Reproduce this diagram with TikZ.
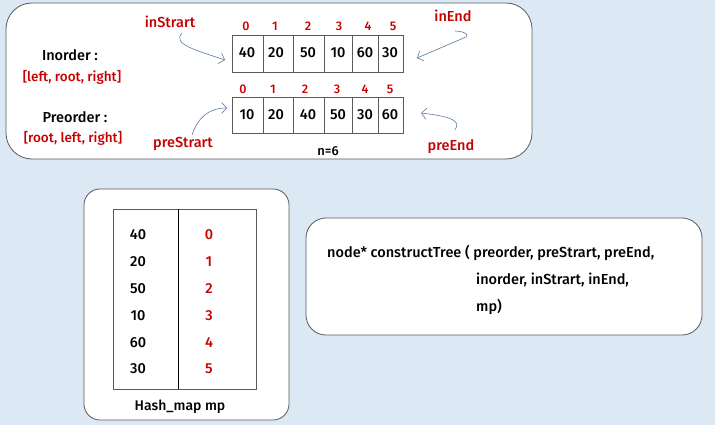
\documentclass[tikz,border=0pt]{standalone}
\usepackage{fontspec}
\setmainfont{Fira Sans}[UprightFont=* Medium]
\usetikzlibrary{arrows.meta}
\definecolor{bgblue}{RGB}{221,232,245}
\definecolor{redtxt}{RGB}{200,0,0}
\definecolor{arrowc}{RGB}{95,125,160}
\definecolor{boxline}{RGB}{90,90,90}
\tikzset{
  panel/.style={draw=boxline, fill=white, line width=0.8pt},
  lbl/.style={inner sep=0pt, font=\fontsize{14.5}{16}\selectfont},
  redlbl/.style={lbl, text=redtxt},
  idx/.style={inner sep=0pt, text=redtxt, font=\fontsize{12.5}{14}\selectfont},
  val/.style={inner sep=0pt, font=\fontsize{14.5}{16}\selectfont},
  cell/.style={draw=boxline, line width=0.6pt},
  ptr/.style={draw=arrowc, line width=0.6pt, -{Straight Barb[length=5pt,width=11pt]}},
  fn/.style={inner sep=0pt, anchor=west, font=\fontsize{14.5}{16}\selectfont},
}
\begin{document}
\begin{tikzpicture}[x=1pt,y=-1pt]
\useasboundingbox (0,0) rectangle (715,425);
\fill[bgblue] (0,0) rectangle (715,425);

% top panel
\draw[panel, rounded corners=26pt] (6,3) rectangle (532,159);

% arrays
\foreach \a/\b in {232/263,263/293,293/324,324/352,352/378,378/403}{
  \draw[cell] (\a,35) rectangle (\b,72);
  \draw[cell] (\a,97) rectangle (\b,133);
}
\foreach \v/\x [count=\i from 0] in {40/247,20/276,50/308,10/338,60/365,30/390}{
  \node[val] (in\i) at (\x,53) {\v};
}
\foreach \v/\x [count=\i from 0] in {10/247,20/276,40/308,50/338,30/365,60/390}{
  \node[val] (pre\i) at (\x,115) {\v};
}
\foreach \x [count=\i from 0] in {246,275,308,339,368,393}{
  \node[idx] (ii\i) at (\x,26) {\i};
}
\foreach \x [count=\i from 0] in {243,273,305,337,365,390}{
  \node[idx] (pi\i) at (\x,89) {\i};
}

\node[lbl] (inlab) at (70,55) {Inorder :};
\node[redlbl, font=\fontsize{13.5}{15}\selectfont] (inrule) at (72,77) {[left, root, right]};
\node[lbl] (prelab) at (75,117) {Preorder :};
\node[redlbl, font=\fontsize{13.5}{15}\selectfont] (prerule) at (73,138) {[root, left, right]};

\node[redlbl] (inS) at (170,22) {inStrart};
\node[redlbl] (preS) at (183,144) {preStrart};
\node[redlbl] (inE) at (453,16) {inEnd};
\node[redlbl] (preE) at (451,147) {preEnd};
\node[lbl, font=\fontsize{13}{15}\selectfont] (n6) at (328,151) {n=6};

\coordinate (inSa) at (182,33);
\coordinate (inSb) at (225,60);
\draw[ptr] (inSa) .. controls (172,44) and (195,50) .. (inSb);
\coordinate (preSa) at (192,135);
\coordinate (preSb) at (227,108);
\draw[ptr] (preSa) .. controls (198,118) and (208,108) .. (preSb);
\coordinate (inEa) at (455,31);
\coordinate (inEb) at (417,58);
\draw[ptr] (inEa) .. controls (462,31) and (470,34) .. (466,37) -- (inEb);
\coordinate (preEa) at (455,130);
\coordinate (preEb) at (421,113);
\draw[ptr] (preEa) .. controls (460,122) and (456,117) .. (preEb);

% hash map panel
\draw[panel, rounded corners=16pt] (84,189) rectangle (289,420);
\draw[cell, draw=boxline] (113,209) rectangle (256,389);
\draw[line width=0.7pt] (178,209) -- (178,389);
\foreach \k/\y [count=\i from 0] in {40/235,20/262,50/289,10/316,60/343,30/369}{
  \node[val] (hk\i) at (138,\y) {\k};
  \node[val, text=redtxt] (hv\i) at (209,\y) {\the\numexpr\i\relax};
}
\node[lbl, font=\fontsize{14}{16}\selectfont] (hm) at (180,407) {Hash\_map mp};

% function panel
\draw[panel, rounded corners=20pt] (306,218) rectangle (702,335);
\node[fn] (f1) at (327,253) {node* constructTree ( preorder, preStrart, preEnd,};
\node[fn] (f2) at (476,280) {inorder, inStrart, inEnd,};
\node[fn] (f3) at (476,307) {mp)};
\end{tikzpicture}
\end{document}
